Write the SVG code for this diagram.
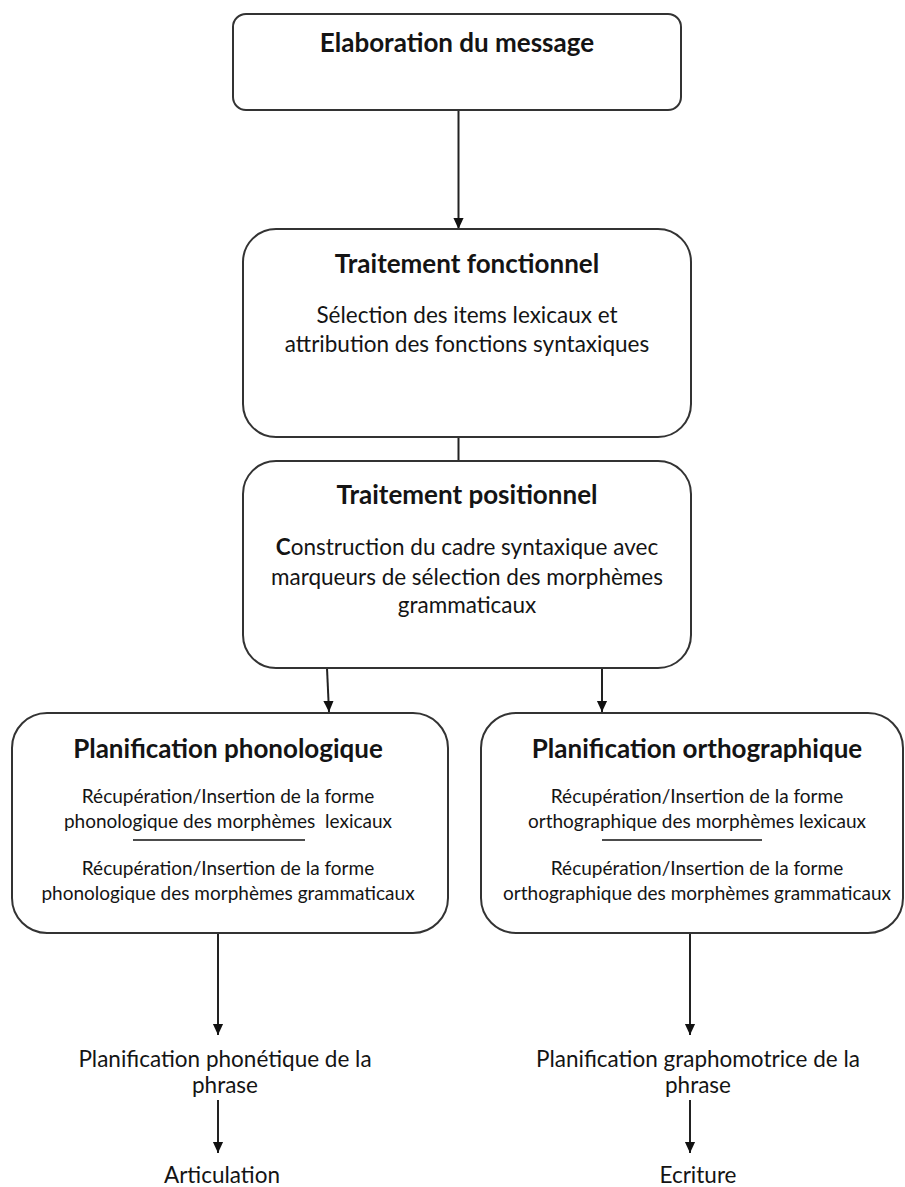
<svg xmlns="http://www.w3.org/2000/svg" width="905" height="1187" viewBox="0 0 905 1187">
<defs>
<marker id="arr" markerUnits="userSpaceOnUse" markerWidth="12" markerHeight="14" refX="6" refY="13" orient="auto-start-reverse" viewBox="0 0 12 14">
<path d="M0,0 L12,0 L6,13 Z" fill="#111" transform="rotate(-90 6 6.5) translate(0,0)"/>
</marker>
<marker id="ah" markerUnits="userSpaceOnUse" markerWidth="12" markerHeight="14" refX="13" refY="6" orient="auto" viewBox="0 0 14 12">
<path d="M0,0 L13,6 L0,12 Z" fill="#111"/>
</marker>
<style>
.box{fill:#fff;stroke:#333;stroke-width:2}
.t{font-family:Lato,"Open Sans",sans-serif;fill:#141414;text-anchor:middle}
.title{font-weight:bold;font-size:26px}
.body{font-size:22.5px}
.small{font-size:19px}
.edge{stroke:#222;stroke-width:2;fill:none}
.sep{stroke:#111;stroke-width:1.6}
</style>
</defs>
<rect width="905" height="1187" fill="#fff"/>
<g id="connectors">
<path class="edge" d="M458.5,110 V229" marker-end="url(#ah)"/>
<path class="edge" d="M458.5,437 V461"/>
<path class="edge" d="M327,668 L329,712" marker-end="url(#ah)"/>
<path class="edge" d="M602,668 V712" marker-end="url(#ah)"/>
<path class="edge" d="M218,933 V1035" marker-end="url(#ah)"/>
<path class="edge" d="M690,933 V1035" marker-end="url(#ah)"/>
<path class="edge" d="M218,1100 V1153" marker-end="url(#ah)"/>
<path class="edge" d="M690,1100 V1153" marker-end="url(#ah)"/>
</g>
<g id="elaboration">
<rect class="box" x="233" y="14" width="448" height="96" rx="13"/>
<text class="t title" x="457" y="52">Elaboration du message</text>
</g>
<g id="fonctionnel">
<rect class="box" x="243" y="229" width="448" height="208" rx="33"/>
<text class="t title" x="467" y="273">Traitement fonctionnel</text>
<text class="t body" x="467" y="323">Sélection des items lexicaux et</text>
<text class="t body" x="467" y="352">attribution des fonctions syntaxiques</text>
</g>
<g id="positionnel">
<rect class="box" x="243" y="461" width="448" height="207" rx="33"/>
<text class="t title" x="467" y="504">Traitement positionnel</text>
<text class="t body" x="467" y="555"><tspan font-weight="bold">C</tspan>onstruction du cadre syntaxique avec</text>
<text class="t body" x="467" y="585">marqueurs de sélection des morphèmes</text>
<text class="t body" x="467" y="613">grammaticaux</text>
</g>
<g id="phonologique">
<rect class="box" x="12" y="713" width="436" height="220" rx="35"/>
<text class="t title" x="228" y="758">Planification phonologique</text>
<text class="t small" x="228" y="803">Récupération/Insertion de la forme</text>
<text class="t small" x="228" y="828" xml:space="preserve">phonologique des morphèmes  lexicaux</text>
<line class="sep" x1="133" y1="840" x2="305" y2="840"/>
<text class="t small" x="228" y="875">Récupération/Insertion de la forme</text>
<text class="t small" x="228" y="900">phonologique des morphèmes grammaticaux</text>
</g>
<g id="orthographique">
<rect class="box" x="481" y="713" width="422" height="220" rx="35"/>
<text class="t title" x="697" y="758">Planification orthographique</text>
<text class="t small" x="697" y="803">Récupération/Insertion de la forme</text>
<text class="t small" x="697" y="828">orthographique des morphèmes lexicaux</text>
<line class="sep" x1="602" y1="840" x2="762" y2="840"/>
<text class="t small" x="697" y="875">Récupération/Insertion de la forme</text>
<text class="t small" x="697" y="900">orthographique des morphèmes grammaticaux</text>
</g>
<g id="phonetique">
<text class="t body" x="225" y="1067">Planification phonétique de la</text>
<text class="t body" x="225" y="1093">phrase</text>
</g>
<g id="articulation">
<text class="t body" x="222" y="1183">Articulation</text>
</g>
<g id="graphomotrice">
<text class="t body" x="698" y="1067">Planification graphomotrice de la</text>
<text class="t body" x="698" y="1093">phrase</text>
</g>
<g id="ecriture">
<text class="t body" x="698" y="1183">Ecriture</text>
</g>
</svg>
